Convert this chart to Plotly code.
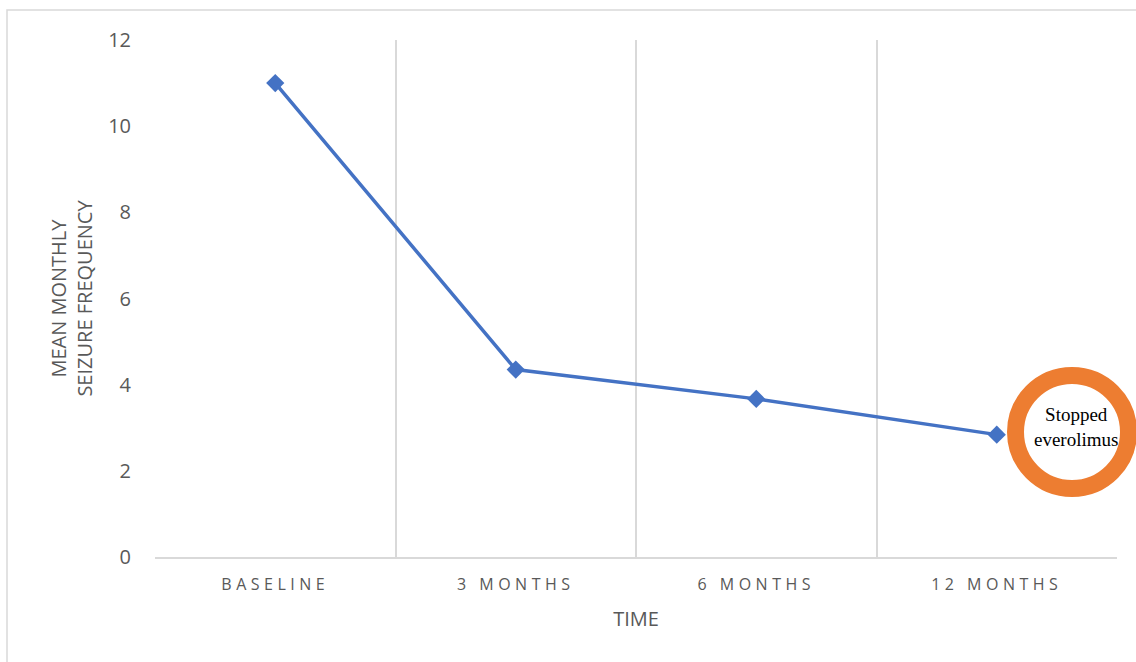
import plotly.graph_objects as go

categories = ["BASELINE", "3 MONTHS", "6 MONTHS", "12 MONTHS"]
seizure_freq = [11.0, 4.35, 3.67, 2.84]
y_ticks = [0, 2, 4, 6, 8, 10, 12]
annotation_text = "Stopped<br>everolimus"

W, H = 1136, 662
L, R, T, B = 155, 19, 40, 105
pw, ph = W - L - R, H - T - B

def px(x):
    return (x - L) / pw

def py(y):
    return (H - B - y) / ph

fig = go.Figure()
fig.add_trace(go.Scatter(
    x=categories, y=seizure_freq, mode="lines+markers",
    line=dict(color="#4472C4", width=3.5),
    marker=dict(symbol="diamond", size=14, color="#4472C4"),
    showlegend=False, cliponaxis=False,
))

grey = "#595959"
fig.update_layout(
    width=W, height=H,
    margin=dict(l=L, r=R, t=T, b=B),
    paper_bgcolor="white", plot_bgcolor="white",
    font=dict(family="Open Sans", color=grey),
    xaxis=dict(
        type="category", range=[-0.5, 3.5], tickson="boundaries",
        showgrid=True, gridcolor="#d9d9d9", gridwidth=1.5,
        showline=True, linecolor="#d9d9d9", linewidth=1.5,
        ticks="", ticklabelstandoff=12, tickfont=dict(size=16, color=grey),
        title=dict(text="TIME", font=dict(size=20, color=grey), standoff=18),
    ),
    yaxis=dict(
        range=[0, 12], tickvals=y_ticks, showgrid=False, zeroline=False,
        showline=False, ticks="", ticklabelstandoff=23,
        tickfont=dict(size=20, color=grey),
        title=dict(text="MEAN MONTHLY<br>SEIZURE FREQUENCY",
                   font=dict(size=20, color=grey), standoff=10),
    ),
    shapes=[
        dict(type="rect", xref="paper", yref="paper",
             x0=px(7), x1=px(1160), y0=py(10), y1=py(700),
             line=dict(color="#d9d9d9", width=1.5), layer="below"),
        dict(type="circle", xref="paper", yref="paper",
             x0=px(1072 - 56.5), x1=px(1072 + 56.5),
             y0=py(432 + 56.5), y1=py(432 - 56.5),
             line=dict(color="#ED7D31", width=17), fillcolor="white"),
    ],
    annotations=[
        dict(xref="paper", yref="paper", x=px(1076), y=py(427),
             xanchor="center", yanchor="middle",
             text=annotation_text, showarrow=False,
             font=dict(family="Liberation Serif", size=19, color="black")),
    ],
)

post = (
    "var gd=document.getElementById('{plot_id}');"
    "gd.querySelectorAll('.xtick text').forEach(function(t){t.style.letterSpacing='4.5px';});"
)
fig.write_html("out.html", post_script=post)
